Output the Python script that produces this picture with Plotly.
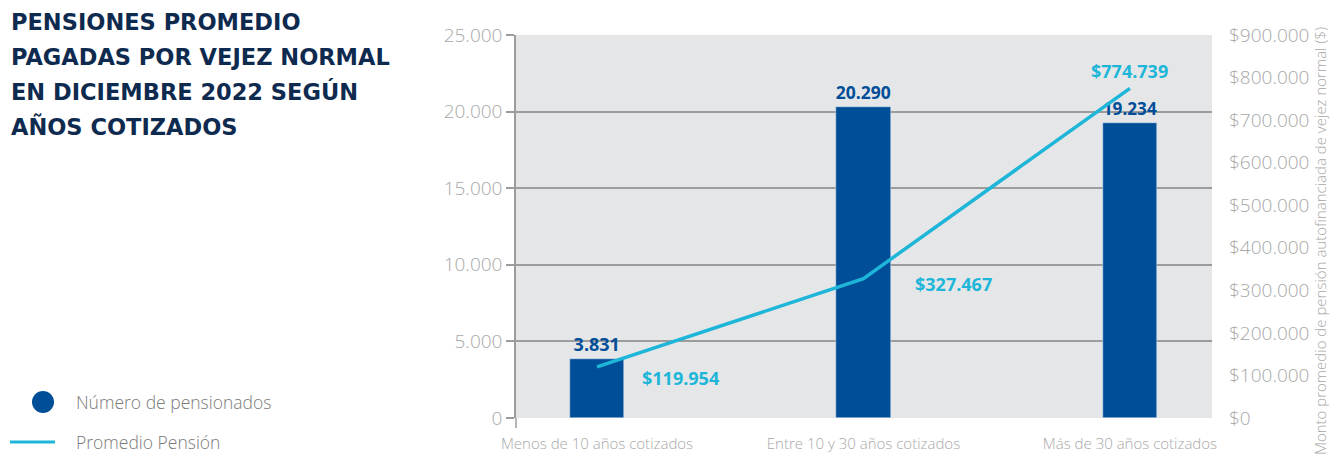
import plotly.graph_objects as go

categories = ["Menos de 10 años cotizados", "Entre 10 y 30 años cotizados", "Más de 30 años cotizados"]
pensionados = [3831, 20290, 19234]
promedio_pension = [119954, 327467, 774739]
left_ticks = [0, 5000, 10000, 15000, 20000, 25000]
right_ticks = [0, 100000, 200000, 300000, 400000, 500000, 600000, 700000, 800000, 900000]
title_lines = ["PENSIONES PROMEDIO", "PAGADAS POR VEJEZ NORMAL", "EN DICIEMBRE 2022 SEGÚN", "AÑOS COTIZADOS"]

W, H = 1343, 460
OFF = 8  # page body margin
L, R, T, B = 516, 1212, 35, 418  # plot area in screen pixels

def px(x):
    return (x - L) / (R - L)

def py(y):
    return (B - y) / (B - T)

def fmt(v):
    return f"{v:,}".replace(",", ".")

BAR = "#004E98"
LINE = "#1DB6D9"
NAVY = "#0F2A4F"
LGRAY = "#A8A8A8"
FONT = "Open Sans"

xs = [0, 1, 2]

fig = go.Figure()
fig.add_trace(go.Bar(
    x=xs, y=pensionados, marker_color=BAR, width=0.203,
    text=[fmt(v) for v in pensionados],
    textposition="outside", cliponaxis=False,
    textfont=dict(family=FONT, size=18, color=BAR, weight="bold"),
    showlegend=False, yaxis="y",
))
fig.add_trace(go.Scatter(
    x=xs, y=promedio_pension, mode="lines", line=dict(color=LINE, width=3.5),
    yaxis="y2", showlegend=False,
))

offsets = [(83, 11), (90, 5), (0, -17)]
for i, v in enumerate(promedio_pension):
    fig.add_annotation(
        x=xs[i], y=v, xref="x", yref="y2",
        text="<b>$" + fmt(v) + "</b>",
        showarrow=False, xshift=offsets[i][0], yshift=-offsets[i][1],
        font=dict(family=FONT, size=18, color=LINE),
    )

fig.update_layout(
    width=W, height=H,
    margin=dict(l=L - OFF, r=W - R + OFF, t=T - OFF, b=H - (B - OFF), pad=0),
    paper_bgcolor="white", plot_bgcolor="#E5E6E8",
    separators=",.",
    bargap=0,
    font=dict(family=FONT),
    xaxis=dict(
        tickmode="array", tickvals=xs, ticktext=categories,
        range=[-0.304, 2.308], showgrid=False, zeroline=False,
        showline=False, ticks="", ticklabelstandoff=15,
        tickfont=dict(family=FONT, size=15, color=LGRAY, weight=300),
    ),
    yaxis=dict(
        range=[0, 25000], tickmode="array", tickvals=left_ticks,
        tickformat=",d", showgrid=True, gridcolor="#9C9C9C", gridwidth=1.5,
        zeroline=False, showline=True, linecolor="#9C9C9C", linewidth=1.5,
        ticks="outside", ticklen=8, tickcolor="#9C9C9C", tickwidth=1.5,
        tickfont=dict(family=FONT, size=19, color=LGRAY, weight=300),
    ),
    yaxis2=dict(
        range=[0, 900000], tickmode="array", tickvals=right_ticks,
        ticktext=["$" + fmt(v) for v in right_ticks],
        overlaying="y", side="right",
        showgrid=False, zeroline=False, showline=False, ticks="",
        ticklabelstandoff=16,
        tickfont=dict(family=FONT, size=19, color=LGRAY, weight=300),
    ),
)

fig.add_shape(type="line", xref="paper", yref="paper",
              x0=0, x1=0, y0=py(418), y1=py(428),
              line=dict(color="#9C9C9C", width=1.5))

title_y = [22, 57, 92, 127]
for line_text, yy in zip(title_lines, title_y):
    fig.add_annotation(
        xref="paper", yref="paper", x=px(9), y=py(yy), xanchor="left", yanchor="middle",
        align="left", showarrow=False, text="<b>" + line_text + "</b>",
        font=dict(family="DejaVu Sans", size=22.5, color=NAVY),
    )

fig.add_annotation(
    xref="paper", yref="paper", x=px(1320), y=py(241), textangle=-90,
    xanchor="center", yanchor="middle",
    showarrow=False, text="Monto promedio de pensión autofinanciada de vejez normal ($)",
    font=dict(family=FONT, size=15, color=LGRAY, weight=300),
)

# legend
fig.add_shape(type="circle", xref="paper", yref="paper",
              x0=px(32), x1=px(54), y0=py(391), y1=py(413),
              fillcolor=BAR, line=dict(width=0))
fig.add_shape(type="line", xref="paper", yref="paper",
              x0=px(10), x1=px(55), y0=py(442), y1=py(442),
              line=dict(color=LINE, width=3))
for label, yy in [("Número de pensionados", 402), ("Promedio Pensión", 442)]:
    fig.add_annotation(xref="paper", yref="paper", x=px(74), y=py(yy),
                       xanchor="left", yanchor="middle",
                       showarrow=False, text=label,
                       font=dict(family=FONT, size=17.5, color="#7A7A7A", weight=300))

fig.write_html("out.html")
